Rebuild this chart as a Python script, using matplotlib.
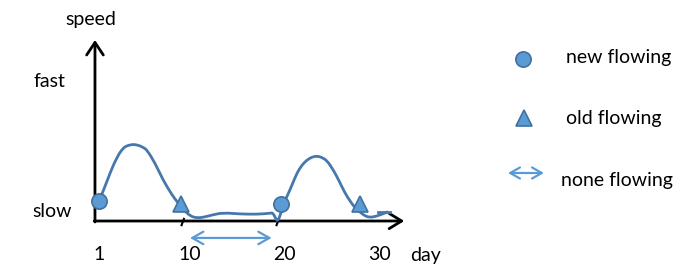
import matplotlib.pyplot as plt
from matplotlib.path import Path
from matplotlib.patches import PathPatch

W, H = 699, 269

# curve: day vs speed (arbitrary units, 0 = day axis)
days = [1.26, 1.68, 2.42, 3.16, 3.79, 4.2, 4.53, 4.88, 5.26, 5.6, 5.95, 6.32, 7.16, 8.0,
        8.95, 9.58, 10.21, 10.84, 11.58, 12.42, 13.16, 14.32, 16.1, 17.89,
        19.26, 19.58, 19.89, 20.1, 20.42, 20.74, 21.05, 21.58, 22.1, 22.63,
        23.16, 23.68, 24.21, 24.74, 25.26, 25.79, 26.32, 26.84, 27.37, 28.21,
        28.74, 29.26, 29.79, 30.32, 30.84, 31.68]
speed = [1.45, 2.07, 3.43, 4.57, 5.21, 5.37, 5.43, 5.47, 5.43, 5.36, 5.24, 5.07, 4.14, 2.93,
         1.86, 1.29, 0.79, 0.36, 0.21, 0.29, 0.43, 0.59, 0.5, 0.48,
         0.55, 0.59, 0.12, 0.0, 0.57, 1.36, 1.74, 2.57, 3.43, 4.0,
         4.36, 4.57, 4.64, 4.54, 4.31, 3.79, 3.16, 2.43, 1.74, 0.93,
         0.64, 0.36, 0.26, 0.32, 0.43, 0.66]

new_days, new_speed = [1.26, 20.42], [1.45, 1.21]      # circles
old_days, old_speed = [9.89, 28.74], [1.25, 1.25]      # triangles
none_span = (10.84, 19.44)                              # double arrow under axis
none_level = -1.21
tail_days, tail_speed = [30.63, 31.89], [0.64, 0.64]   # short dash at the end

tick_days = [1, 10, 20, 30]
tick_labels = ["1", "10", "20", "30"]
slash_days = [10, 20]

LINE = "#4677ad"
FILL = "#5b9bd5"
EDGE = "#41719c"
FONT = "Lato"
FS = 14

fig = plt.figure(figsize=(W / 100, H / 100), dpi=100)
ax = fig.add_axes([0, 0, 1, 1])
# 1 day = 9.5 px, 1 speed unit = 14 px, data origin at pixel (87, 221)
ax.set_xlim(-87 / 9.5, (W - 87) / 9.5)
ax.set_ylim(-(H - 221) / 14, 221 / 14)
ax.axis("off")


def fx(px):
    return px / W


def fy(py):
    return 1 - py / H


# axes with open arrow heads
x0, x1, y1 = 0.84, 33.4, 12.93
head = "->,head_length=0.9,head_width=0.6"
ax.annotate("", xy=(x0, y1), xytext=(x0, -0.07), annotation_clip=False,
            arrowprops=dict(arrowstyle=head, lw=2, color="black",
                            mutation_scale=10, shrinkA=0, shrinkB=0))
ax.annotate("", xy=(x1, 0), xytext=(x0 - 0.08, 0), annotation_clip=False,
            arrowprops=dict(arrowstyle="->,head_length=0.9,head_width=0.55",
                            lw=2, color="black", mutation_scale=10,
                            shrinkA=0, shrinkB=0))
for d in slash_days:
    ax.plot([d - 0.05, d + 0.2], [-0.3, 0.15], color="black", lw=1.5)

# smooth curve: quadratic segments through midpoints of the read points
pts = list(zip(days, speed))
verts, codes = [pts[0]], [Path.MOVETO]
for i in range(1, len(pts) - 1):
    mid = ((pts[i][0] + pts[i + 1][0]) / 2, (pts[i][1] + pts[i + 1][1]) / 2)
    verts += [pts[i], mid]
    codes += [Path.CURVE3, Path.CURVE3]
verts.append(pts[-1])
codes.append(Path.LINETO)
ax.add_patch(PathPatch(Path(verts, codes), fill=False, edgecolor=LINE, lw=2,
                       joinstyle="round", zorder=3))
ax.plot(tail_days, tail_speed, color=LINE, lw=2, zorder=3)
ax.plot(new_days, new_speed, "o", ms=11, mfc=FILL, mec=EDGE, mew=1.2, zorder=4)
ax.plot(old_days, old_speed, "^", ms=12, mfc=FILL, mec=EDGE, mew=1.2, zorder=4)

ax.annotate("", xy=(none_span[0], none_level), xytext=(none_span[1], none_level),
            arrowprops=dict(arrowstyle="<->,head_length=0.8,head_width=0.45",
                            lw=1.6, color=FILL, mutation_scale=10,
                            shrinkA=0, shrinkB=0))

# labels
label_y = -(260.5 - 221) / 14
for d, lab in zip(tick_days, tick_labels):
    ax.annotate(lab, (d, label_y), xytext=(-2.5, 0), textcoords="offset points",
                ha="left", va="baseline", fontsize=FS, family=FONT,
                annotation_clip=False)

txt = dict(ha="left", va="baseline", fontsize=FS, family=FONT)
fig.text(fx(410), fy(260.5), "day", **txt)
fig.text(fx(65), fy(25), "speed", **txt)
fig.text(fx(33), fy(86.7), "fast", **txt)
fig.text(fx(32), fy(216.7), "slow", **txt)

# legend
ax.plot([fx(523)], [fy(59)], "o", ms=11, mfc=FILL, mec=EDGE, mew=1.2,
        transform=fig.transFigure, clip_on=False)
ax.plot([fx(524)], [fy(118)], "^", ms=12, mfc=FILL, mec=EDGE, mew=1.2,
        transform=fig.transFigure, clip_on=False)
ax.annotate("", xy=(fx(508), fy(173)), xytext=(fx(544), fy(173)),
            xycoords="figure fraction", textcoords="figure fraction",
            arrowprops=dict(arrowstyle="<->,head_length=0.7,head_width=0.4",
                            lw=1.6, color=FILL, mutation_scale=10,
                            shrinkA=0, shrinkB=0))
fig.text(fx(566), fy(63.3), "new flowing", **txt)
fig.text(fx(566), fy(124.3), "old flowing", **txt)
fig.text(fx(561), fy(186), "none flowing", **txt)

fig.savefig("out.png", dpi=100)
